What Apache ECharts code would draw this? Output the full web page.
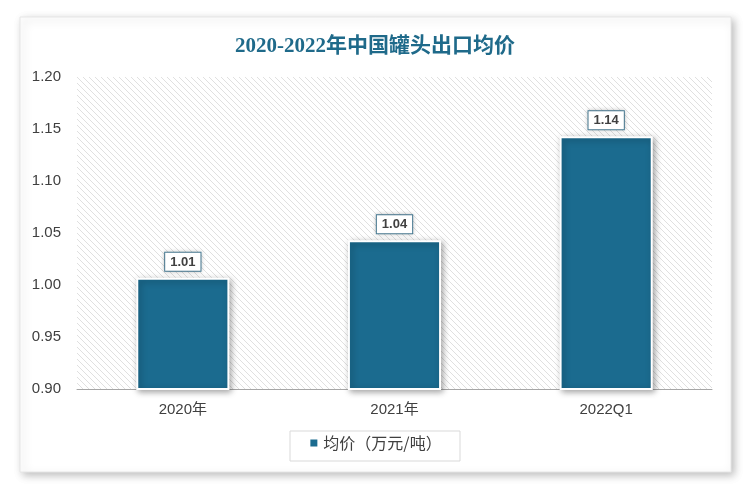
<!DOCTYPE html>
<html><head><meta charset="utf-8">
<script src="https://cdn.jsdelivr.net/npm/echarts@6/dist/echarts.min.js"></script>
<style>html,body{margin:0;padding:0;background:#fff}#c{width:750px;height:491px}</style>
</head><body><div id="c"></div>
<script>
const categories = ['2020年', '2021年', '2022Q1'];
const values = [1.007, 1.043, 1.143];
const seriesName = '均价（万元/吨）';
const titleText = '2020-2022年中国罐头出口均价';

function hatch() {
  const cv = document.createElement('canvas');
  cv.width = 6; cv.height = 6;
  const ctx = cv.getContext('2d');
  ctx.fillStyle = '#ffffff';
  ctx.fillRect(0, 0, 6, 6);
  ctx.strokeStyle = '#e0e0e0';
  ctx.lineWidth = 1;
  ctx.beginPath();
  ctx.moveTo(-1, -1); ctx.lineTo(7, 7);
  ctx.moveTo(-4, 2); ctx.lineTo(4, 10);
  ctx.moveTo(2, -4); ctx.lineTo(10, 4);
  ctx.stroke();
  return cv;
}

const chart = echarts.init(document.getElementById('c'), null, {renderer: 'canvas'});
chart.setOption({
  animation: false,
  backgroundColor: '#ffffff',
  graphic: [{
    type: 'rect', z: -10, silent: true,
    shape: {x: 20, y: 17, width: 711, height: 455},
    style: {fill: '#fff', stroke: '#e6e6e6', lineWidth: 1, shadowBlur: 8, shadowColor: 'rgba(0,0,0,0.25)', shadowOffsetX: 3, shadowOffsetY: 3}
  }, {
    type: 'rect', z: 1, silent: true,
    shape: {x: 290, y: 431, width: 170, height: 30},
    style: {fill: 'rgba(0,0,0,0)', stroke: '#d9d9d9', lineWidth: 1}
  }],
  title: {
    text: titleText, left: 'center', top: 31,
    textStyle: {color: '#1F6A8A', fontSize: 21, fontWeight: 'bold', fontFamily: '"Liberation Serif","Noto Sans CJK SC",serif'}
  },
  legend: {
    data: [seriesName], bottom: 35, left: 'center',
    itemWidth: 9, itemHeight: 9, icon: 'rect', itemGap: 6,
    textStyle: {color: '#404040', fontSize: 16, fontFamily: '"Noto Sans CJK SC",sans-serif'}
  },
  grid: {
    left: 77, right: 38, top: 77, bottom: 102, show: true, borderWidth: 0,
    backgroundColor: {image: hatch(), repeat: 'repeat'}
  },
  xAxis: {
    type: 'category', data: categories,
    axisLine: {lineStyle: {color: '#a6a6a6', width: 1}},
    axisTick: {show: false},
    axisLabel: {color: '#404040', fontSize: 15, margin: 13, fontFamily: '"Liberation Sans","Noto Sans CJK SC",sans-serif'}
  },
  yAxis: {
    type: 'value', min: 0.9, max: 1.2, interval: 0.05,
    axisLine: {show: false}, axisTick: {show: false}, splitLine: {show: false},
    axisLabel: {color: '#404040', fontSize: 15, margin: 16, formatter: v => v.toFixed(2), fontFamily: '"Liberation Sans",sans-serif'}
  },
  series: [{
    name: seriesName, type: 'bar', data: values, barWidth: '44%',
    itemStyle: {color: '#1B6B8F', borderColor: '#ffffff', borderWidth: 2, shadowBlur: 6, shadowColor: 'rgba(0,0,0,0.35)', shadowOffsetX: 2, shadowOffsetY: 2},
    label: {
      show: true, position: 'top', distance: 7,
      formatter: p => p.value.toFixed(2),
      color: '#404040', fontSize: 13, fontWeight: 'bold', fontFamily: '"Liberation Sans",sans-serif',
      backgroundColor: '#ffffff', borderColor: '#4a7f99', borderWidth: 1, padding: [3, 5, 2, 5],
      shadowBlur: 4, shadowColor: 'rgba(0,0,0,0.2)'
    }
  }]
});
</script></body></html>
